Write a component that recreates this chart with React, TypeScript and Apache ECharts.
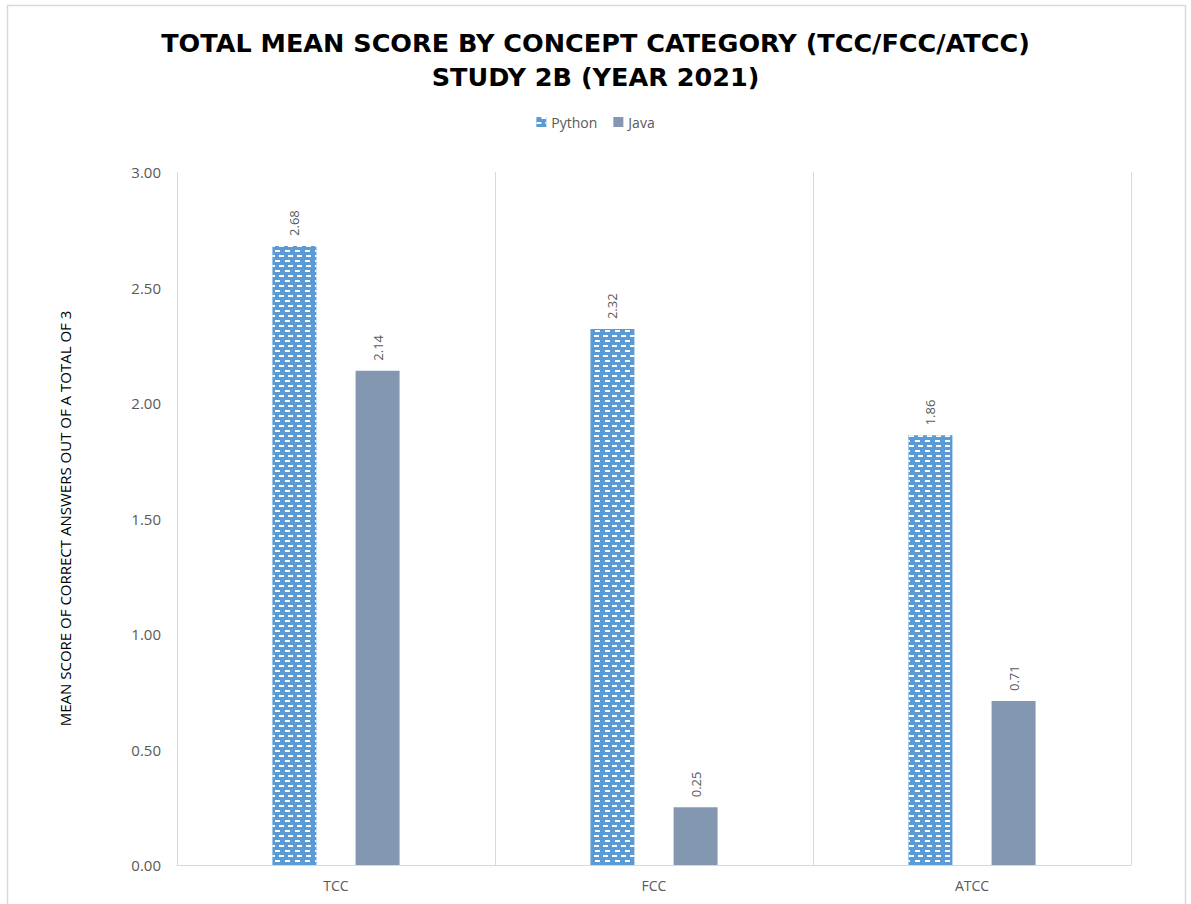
import React, { useEffect, useRef } from "react";
import * as echarts from "echarts";

const categories = ["TCC", "FCC", "ATCC"];
const pythonScores = [2.68, 2.32, 1.86];
const javaScores = [2.14, 0.25, 0.71];
const seriesNames = ["Python", "Java"];
const titleLines = [
  "TOTAL MEAN SCORE BY CONCEPT CATEGORY (TCC/FCC/ATCC)",
  "STUDY 2B (YEAR 2021)",
];
const yAxisTitle = "MEAN SCORE OF CORRECT ANSWERS OUT OF A TOTAL OF 3";

const FONT = "'Open Sans', 'Noto Sans', sans-serif";
const TITLE_FONT = "'DejaVu Sans', 'Open Sans', sans-serif";
const LABEL_GRAY = "#595959";

export default function App() {
  const ref = useRef<HTMLDivElement>(null);

  useEffect(() => {
    if (!ref.current) return;
    const chart = echarts.init(ref.current, undefined, { renderer: "svg" });

    const valueLabel = {
      show: true,
      position: "top",
      rotate: 90,
      align: "left",
      verticalAlign: "middle",
      distance: 10,
      color: LABEL_GRAY,
      fontSize: 13,
      fontFamily: FONT,
      formatter: (p: any) => Number(p.value).toFixed(2),
    };

    chart.setOption({
      animation: false,
      backgroundColor: "#ffffff",
      title: {
        text: titleLines.join("\n"),
        left: "center",
        top: 21,
        textStyle: {
          fontFamily: TITLE_FONT,
          fontWeight: "bold",
          fontSize: 25.5,
          lineHeight: 34,
          color: "#000000",
        },
      },
      legend: {
        top: 110,
        left: "center",
        itemWidth: 10,
        itemHeight: 10,
        itemGap: 16,
        icon: "rect",
        textStyle: { fontFamily: FONT, fontSize: 14, color: LABEL_GRAY },
        data: seriesNames,
      },
      grid: { left: 177, right: 60, top: 172, bottom: 39, containLabel: false },
      xAxis: {
        type: "category",
        data: categories,
        axisLine: { lineStyle: { color: "#d9d9d9", width: 1 } },
        axisTick: { show: false },
        splitLine: { show: true, lineStyle: { color: "#d9d9d9", width: 1 } },
        axisLabel: {
          color: LABEL_GRAY,
          fontFamily: FONT,
          fontSize: 14,
          margin: 13,
        },
      },
      yAxis: {
        type: "value",
        min: 0,
        max: 3,
        interval: 0.5,
        name: yAxisTitle,
        nameLocation: "middle",
        nameGap: 105,
        nameRotate: 90,
        nameTextStyle: { fontFamily: FONT, fontSize: 15, color: "#000000" },
        axisLine: { show: false },
        axisTick: { show: false },
        splitLine: { show: false },
        axisLabel: {
          color: LABEL_GRAY,
          fontFamily: FONT,
          fontSize: 15,
          margin: 16,
          formatter: (v: number) => v.toFixed(2),
        },
      },
      series: [
        {
          name: seriesNames[0],
          type: "bar",
          data: pythonScores,
          barWidth: 44,
          barGap: "89%",
          itemStyle: {
            color: "#5B9BD5",
            decal: {
              symbol: "rect",
              symbolSize: 1,
              color: "#ffffff",
              dashArrayX: [
                [5, 4],
                [0, 4.5, 5, 0],
              ],
              dashArrayY: [1.2, 2.6],
              rotation: 0,
            },
          },
          label: valueLabel,
        },
        {
          name: seriesNames[1],
          type: "bar",
          data: javaScores,
          barWidth: 44,
          itemStyle: { color: "#8497B0" },
          label: valueLabel,
        },
      ],
      graphic: [
        {
          type: "rect",
          silent: true,
          shape: { x: 7.5, y: 5.5, width: 1178, height: 960 },
          style: { fill: "none", stroke: "#d9d9d9", lineWidth: 1.5 },
        },
      ],
    });

    return () => chart.dispose();
  }, []);

  return (
    <div
      ref={ref}
      style={{ position: "fixed", left: 0, top: 0, width: 1191, height: 904 }}
    />
  );
}
